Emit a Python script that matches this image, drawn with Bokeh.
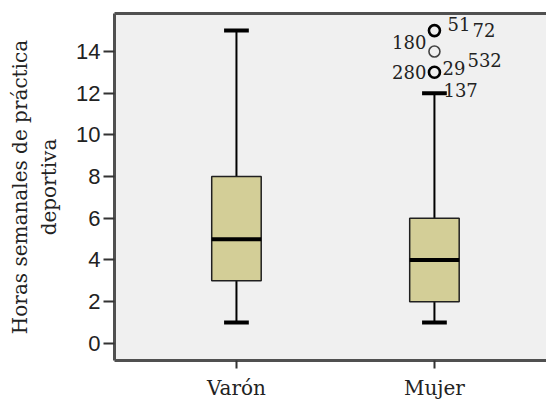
from collections import Counter
from bokeh.plotting import figure
from bokeh.models import Range1d, FixedTicker, LinearAxis, ColumnDataSource
from bokeh.core.properties import value
from bokeh.embed import file_html
from bokeh.resources import INLINE

# ---- data ----
categories = ["Varón", "Mujer"]
q1 = [3, 2]
median = [5, 4]
q3 = [8, 6]
whisker_lo = [1, 1]
whisker_hi = [15, 12]

case_cat = ["Mujer", "Mujer", "Mujer", "Mujer", "Mujer", "Mujer", "Mujer"]
case_val = [15, 15, 14, 13, 13, 13, 12]
case_id = ["51", "72", "180", "280", "29", "532", "137"]

y_ticks = [0, 2, 4, 6, 8, 10, 12, 14]
y_label = "Horas semanales de práctica\ndeportiva"

# ---- figure ----
pos = [i + 1 for i in range(len(categories))]
cat_pos = dict(zip(categories, pos))

SERIF = "DejaVu Serif"
FRAME = "#505050"

p = figure(width=546, height=403, output_backend="svg", toolbar_location=None,
           x_range=Range1d(0.384, 2.566), y_range=Range1d(-0.82, 15.82),
           min_border_left=114, min_border_right=0, min_border_top=13,
           min_border_bottom=43, background_fill_color="#f0f0f0",
           border_fill_color="white", outline_line_color=None)
p.grid.visible = False

# axes
p.yaxis.ticker = FixedTicker(ticks=y_ticks)
p.yaxis.minor_tick_line_color = None
p.yaxis.major_tick_out = 11
p.yaxis.major_tick_in = 0
p.yaxis.major_tick_line_width = 2
p.yaxis.major_tick_line_color = "#333333"
p.yaxis.major_label_standoff = 3
p.yaxis.major_label_text_font = "Liberation Sans"
p.yaxis.major_label_text_font_size = "22px"
p.yaxis.major_label_text_color = "#222222"
p.yaxis.axis_line_width = 3
p.yaxis.axis_line_color = FRAME
p.yaxis.axis_label = y_label
p.yaxis.axis_label_text_font = SERIF
p.yaxis.axis_label_text_font_style = "normal"
p.yaxis.axis_label_text_font_size = "20px"
p.yaxis.axis_label_text_color = "#222222"
p.yaxis.axis_label_standoff = 12

p.xaxis.ticker = FixedTicker(ticks=pos)
p.xaxis.major_label_overrides = {pp: c for pp, c in zip(pos, categories)}
p.xaxis.minor_tick_line_color = None
p.xaxis.major_tick_out = 8
p.xaxis.major_tick_in = 0
p.xaxis.major_tick_line_width = 2
p.xaxis.major_tick_line_color = "#333333"
p.xaxis.major_label_standoff = 7
p.xaxis.major_label_text_font = SERIF
p.xaxis.major_label_text_font_size = "20px"
p.xaxis.major_label_text_color = "#222222"
p.xaxis.axis_line_width = 3
p.xaxis.axis_line_color = FRAME

top_axis = LinearAxis(ticker=FixedTicker(ticks=[]), axis_line_width=3,
                      axis_line_color=FRAME, major_tick_line_color=None,
                      minor_tick_line_color=None, major_tick_out=0,
                      major_label_standoff=0)
p.add_layout(top_axis, "above")

# whiskers
p.segment(x0=pos, y0=q3, x1=pos, y1=whisker_hi, line_color="black", line_width=2)
p.segment(x0=pos, y0=q1, x1=pos, y1=whisker_lo, line_color="black", line_width=2)
cap = 0.0625
for lst in (whisker_hi, whisker_lo):
    p.segment(x0=[x - cap for x in pos], y0=lst, x1=[x + cap for x in pos], y1=lst,
              line_color="black", line_width=4)

# boxes
p.vbar(x=pos, width=0.25, bottom=q1, top=q3, fill_color="#d3ce97",
       line_color="#202020", line_width=1.5)
half = 0.125
p.segment(x0=[x - half for x in pos], y0=median, x1=[x + half for x in pos], y1=median,
          line_color="black", line_width=4)

# outliers (cases above the upper whisker)
hi = dict(zip(categories, whisker_hi))
counts = Counter((c, v) for c, v in zip(case_cat, case_val) if v > hi[c])
multi = [(c, v) for (c, v), n in counts.items() if n > 1]
single = [(c, v) for (c, v), n in counts.items() if n == 1]
if multi:
    p.scatter(x=[cat_pos[c] for c, v in multi], y=[v for c, v in multi], size=11,
              marker="circle", fill_color=None, line_color="black", line_width=2.6)
if single:
    p.scatter(x=[cat_pos[c] for c, v in single], y=[v for c, v in single], size=11,
              marker="circle", fill_color=None, line_color="#444444", line_width=1.6)

# case labels (pixel offsets from the point)
x_off = [13, 38, -8, -8, 8, 33, 9]
y_off = [-7, -1, -9, 0, -4, -12, -3]
align = ["left", "left", "right", "right", "left", "left", "left"]
src = ColumnDataSource(dict(x=[cat_pos[c] for c in case_cat], y=case_val, t=case_id,
                            xo=x_off, yo=y_off, al=align))
p.text(x="x", y="y", text="t", x_offset="xo", y_offset="yo", text_align="al",
       text_baseline="middle", text_font=value(SERIF), text_font_size="18px",
       text_color="#222222", source=src)

open("out.html", "w").write(file_html(p, INLINE))
